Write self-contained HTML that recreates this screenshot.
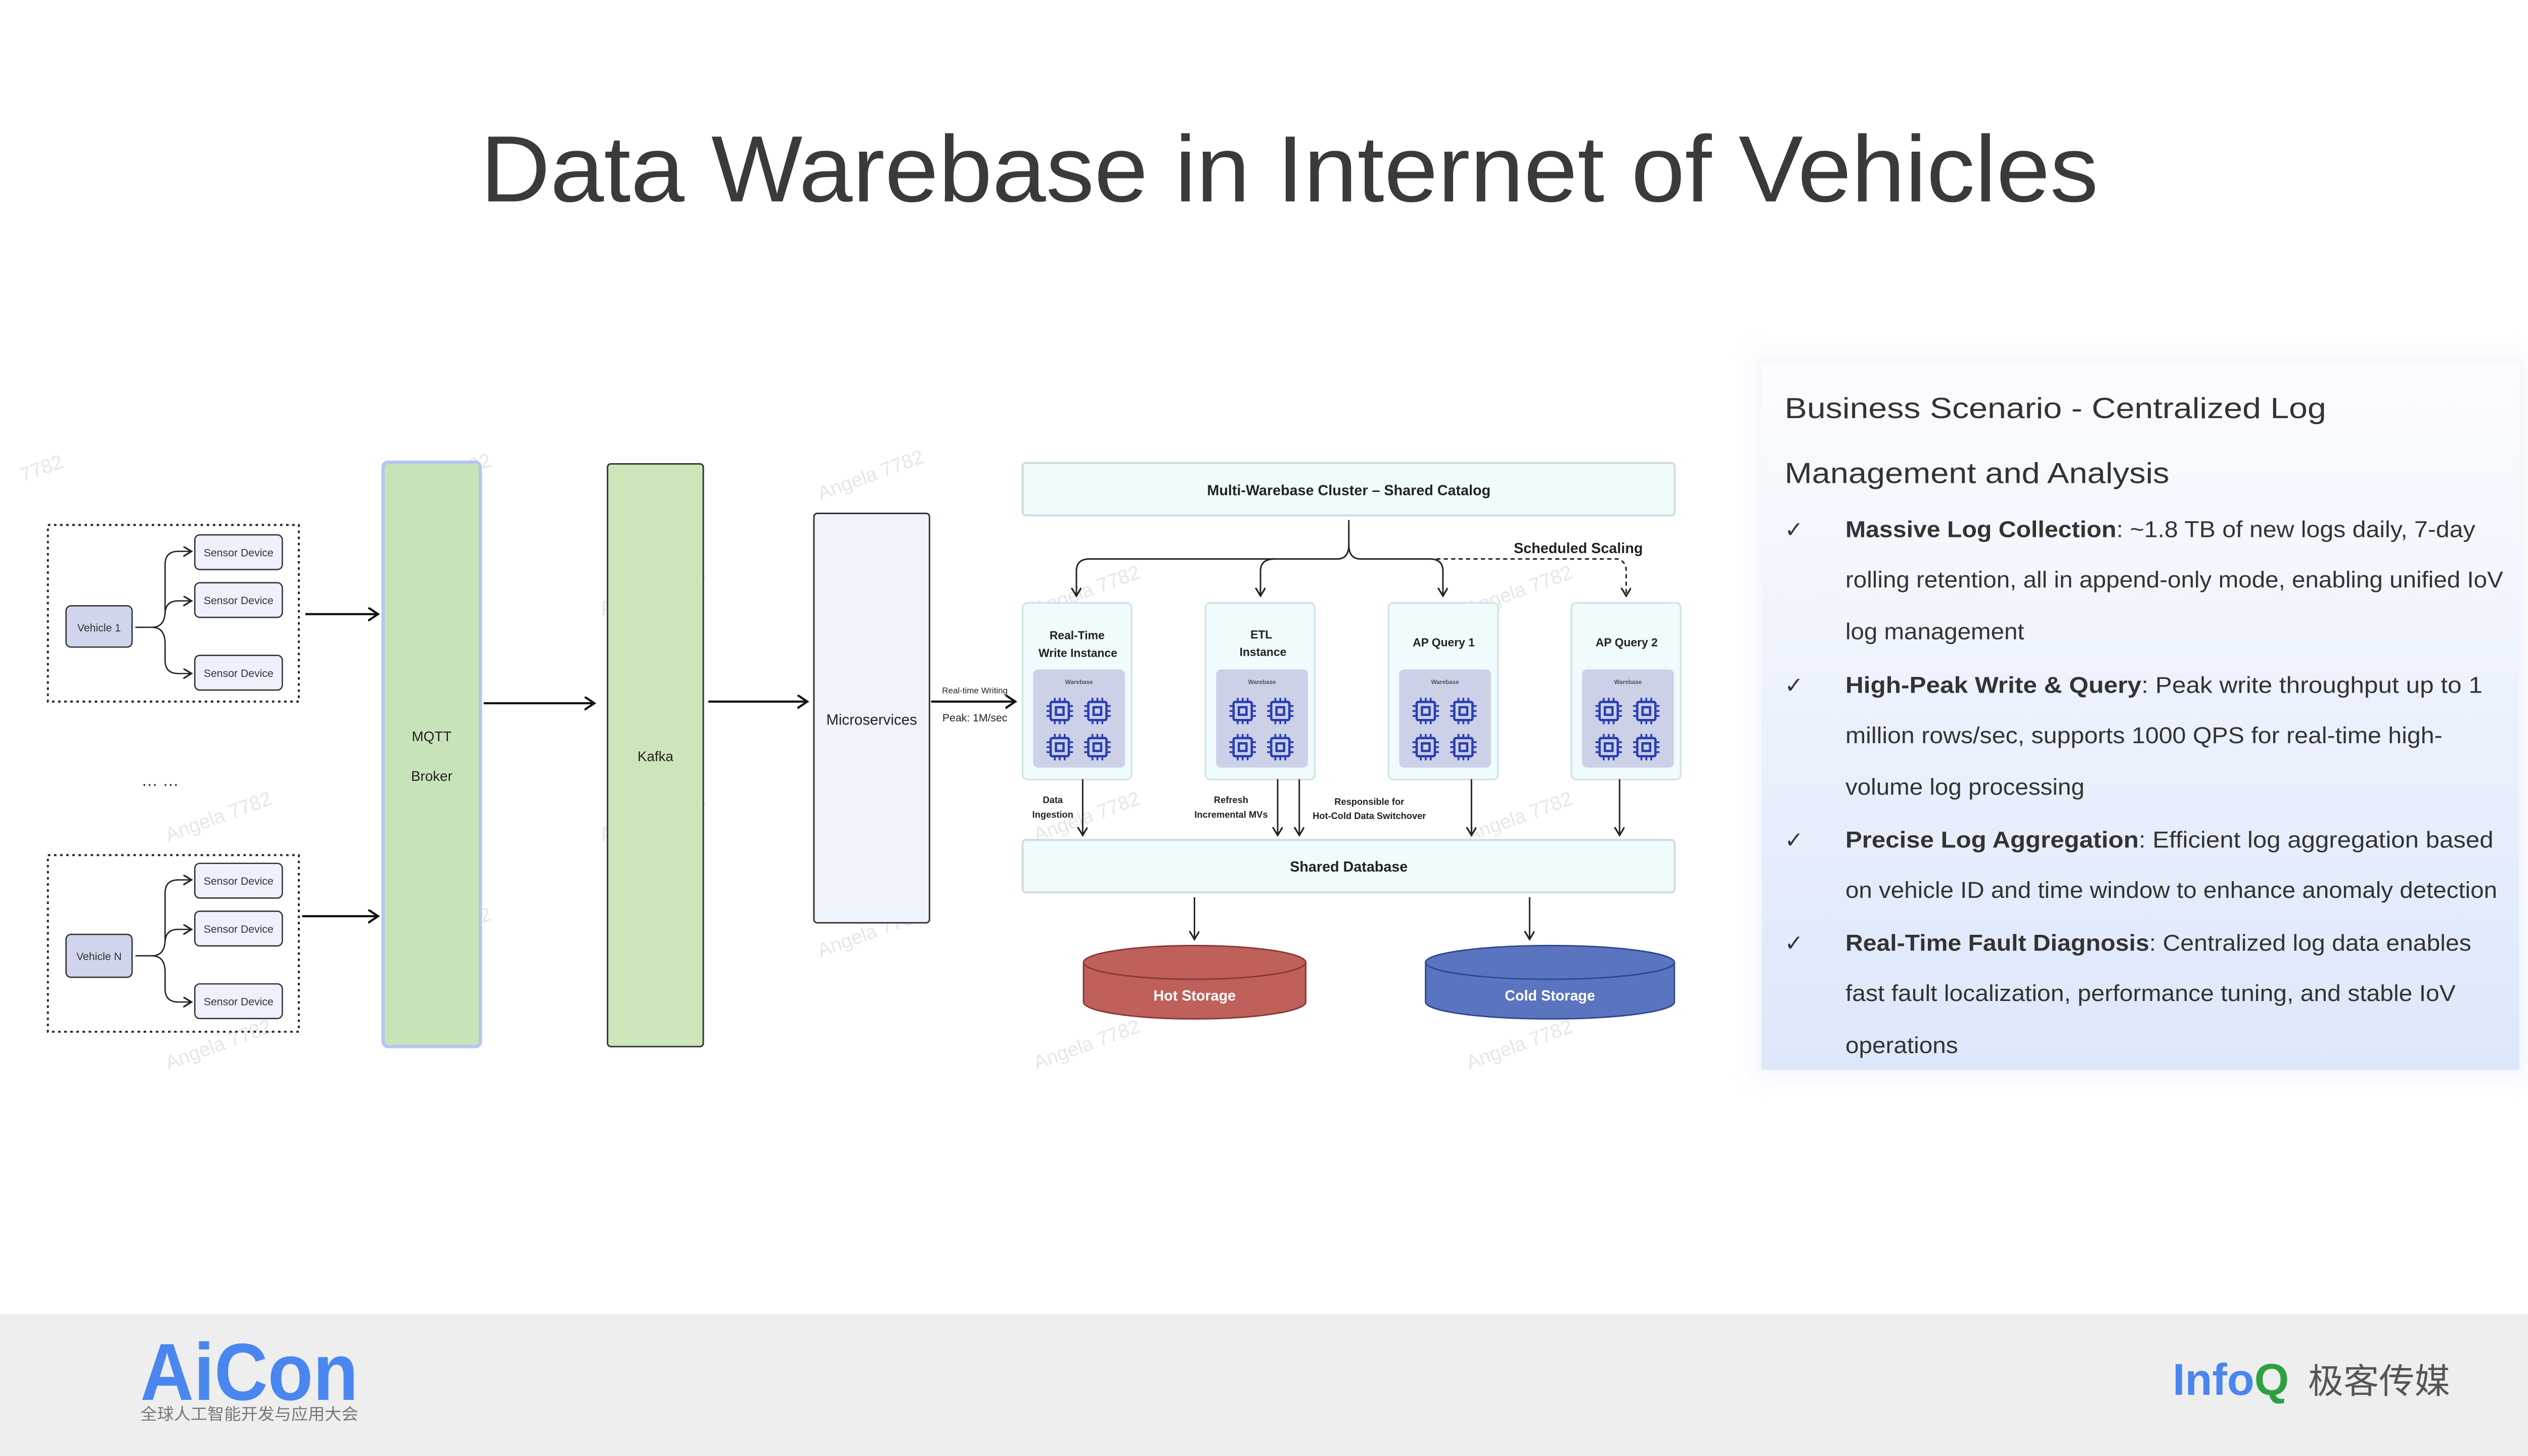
<!DOCTYPE html>
<html><head><meta charset="utf-8"><style>
html,body{margin:0;padding:0;background:#fff;}
svg{display:block;}
</style></head><body>
<svg xmlns="http://www.w3.org/2000/svg" width="5120" height="2880" viewBox="0 0 1568 882">
<defs>
<marker id="ah" markerWidth="8" markerHeight="8" refX="5" refY="3" orient="auto" markerUnits="userSpaceOnUse">
<path d="M0,0 L5,3 L0,6" fill="none" stroke="#222" stroke-width="1"/>
</marker>
<marker id="ahb" markerWidth="10" markerHeight="10" refX="6" refY="4" orient="auto" markerUnits="userSpaceOnUse">
<path d="M0,0 L6,4 L0,8" fill="none" stroke="#111" stroke-width="1.3"/>
</marker>
<g id="chip" fill="none" stroke="#2a3eb1" stroke-width="1.4">
<rect x="-5.5" y="-5.5" width="11" height="11" rx="1"/>
<rect x="-2.3" y="-2.3" width="4.6" height="4.6"/>
<path d="M-3,-5.5V-8M0,-5.5V-8M3,-5.5V-8M-3,5.5V8M0,5.5V8M3,5.5V8M-5.5,-3H-8M-5.5,0H-8M-5.5,3H-8M5.5,-3H8M5.5,0H8M5.5,3H8" stroke-width="1.1"/>
</g>
<g id="wb">
<rect x="0" y="0" width="55.6" height="59.5" rx="3" fill="#ccd1e8"/>
<text x="27.8" y="8.8" font-size="3.6" text-anchor="middle" fill="#555" font-family="Liberation Sans, sans-serif">Warebase</text>
<use href="#chip" x="16.1" y="25.2"/><use href="#chip" x="38.9" y="25.2"/>
<use href="#chip" x="16.1" y="47.1"/><use href="#chip" x="38.9" y="47.1"/>
</g>
<linearGradient id="pg" x1="0" y1="0" x2="0" y2="1">
<stop offset="0" stop-color="#fbfcff"/><stop offset="1" stop-color="#dce7fa"/>
</linearGradient>
<filter id="sh" x="-10%" y="-10%" width="120%" height="120%"><feGaussianBlur stdDeviation="6"/></filter>
</defs>

<!-- title -->
<text x="291" y="122" font-size="57" fill="#3a3a3a" textLength="980" lengthAdjust="spacingAndGlyphs" font-family="Liberation Sans, sans-serif">Data Warebase in Internet of Vehicles</text>

<!-- watermarks -->
<g font-family="Liberation Sans, sans-serif" font-size="12" fill="#e6e6e6">
<text transform="translate(14,292) rotate(-20)">7782</text>
<text transform="translate(235,305) rotate(-20)">Angela 7782</text>
<text transform="translate(497,303) rotate(-20)">Angela 7782</text>
<text transform="translate(365,373) rotate(-20)">Angela 7782</text>
<text transform="translate(102,510) rotate(-20)">Angela 7782</text>
<text transform="translate(365,510) rotate(-20)">Angela 7782</text>
<text transform="translate(235,580) rotate(-20)">Angela 7782</text>
<text transform="translate(497,580) rotate(-20)">Angela 7782</text>
<text transform="translate(102,648) rotate(-20)">Angela 7782</text>
<text transform="translate(628,648) rotate(-20)">Angela 7782</text>
<text transform="translate(890,648) rotate(-20)">Angela 7782</text>
<text transform="translate(890,510) rotate(-20)">Angela 7782</text>
<text transform="translate(890,373) rotate(-20)">Angela 7782</text>
<text transform="translate(628,373) rotate(-20)">Angela 7782</text>
<text transform="translate(628,510) rotate(-20)">Angela 7782</text>
</g>

<!-- vehicle groups -->
<g font-family="Liberation Sans, sans-serif" font-size="6.5" fill="#333" text-anchor="middle">
<rect x="29" y="318" width="152" height="107" fill="none" stroke="#222" stroke-width="1.2" stroke-dasharray="1.5,2.2"/>
<rect x="40" y="367" width="40" height="25" rx="3" fill="#d0d4ec" stroke="#333" stroke-width="0.8"/>
<text x="60" y="382.5">Vehicle 1</text>
<rect x="118" y="324" width="53" height="21" rx="3" fill="#eef1fc" stroke="#333" stroke-width="0.8"/>
<text x="144.5" y="337">Sensor Device</text>
<rect x="118" y="353" width="53" height="21" rx="3" fill="#eef1fc" stroke="#333" stroke-width="0.8"/>
<text x="144.5" y="366">Sensor Device</text>
<rect x="118" y="397" width="53" height="21" rx="3" fill="#eef1fc" stroke="#333" stroke-width="0.8"/>
<text x="144.5" y="410">Sensor Device</text>
<g fill="none" stroke="#222" stroke-width="0.8">
<path d="M82,380 H92 Q100,380 100,370 V342 Q100,334 108,334 H116" marker-end="url(#ah)"/>
<path d="M100,372 Q100,364 108,364 H116" marker-end="url(#ah)"/>
<path d="M92,380 Q100,380 100,390 V400 Q100,408 108,408 H116" marker-end="url(#ah)"/>
</g>

<rect x="29" y="518" width="152" height="107" fill="none" stroke="#222" stroke-width="1.2" stroke-dasharray="1.5,2.2"/>
<rect x="40" y="566" width="40" height="26" rx="3" fill="#d0d4ec" stroke="#333" stroke-width="0.8"/>
<text x="60" y="581.5">Vehicle N</text>
<rect x="118" y="523" width="53" height="21" rx="3" fill="#eef1fc" stroke="#333" stroke-width="0.8"/>
<text x="144.5" y="536">Sensor Device</text>
<rect x="118" y="552" width="53" height="21" rx="3" fill="#eef1fc" stroke="#333" stroke-width="0.8"/>
<text x="144.5" y="565">Sensor Device</text>
<rect x="118" y="596" width="53" height="21" rx="3" fill="#eef1fc" stroke="#333" stroke-width="0.8"/>
<text x="144.5" y="609">Sensor Device</text>
<g fill="none" stroke="#222" stroke-width="0.8">
<path d="M82,579 H92 Q100,579 100,569 V541 Q100,533 108,533 H116" marker-end="url(#ah)"/>
<path d="M100,571 Q100,563 108,563 H116" marker-end="url(#ah)"/>
<path d="M92,579 Q100,579 100,589 V599 Q100,607 108,607 H116" marker-end="url(#ah)"/>
</g>
<text x="97" y="476" font-size="10" fill="#222">… …</text>
</g>

<!-- main flow -->
<g fill="none" stroke="#111" stroke-width="1.3">
<path d="M185,372 H229" marker-end="url(#ahb)"/>
<path d="M183,555 H229" marker-end="url(#ahb)"/>
<path d="M293,426 H360" marker-end="url(#ahb)"/>
<path d="M429,425 H489" marker-end="url(#ahb)"/>
<path d="M564,425 H615" marker-end="url(#ahb)"/>
</g>
<g font-family="Liberation Sans, sans-serif" fill="#222" text-anchor="middle">
<rect x="232" y="280" width="59" height="354" rx="3" fill="#c9e3b8" stroke="#b5c6f2" stroke-width="2"/>
<text x="261.5" y="449" font-size="8.5">MQTT</text>
<text x="261.5" y="473" font-size="8.5">Broker</text>
<rect x="368" y="281" width="58" height="353" rx="2" fill="#cce5b9" stroke="#333" stroke-width="0.9"/>
<text x="397" y="461" font-size="8.5">Kafka</text>
<rect x="493" y="311" width="70" height="248" rx="2" fill="#eff3fc" stroke="#333" stroke-width="0.9"/>
<text x="528" y="439" font-size="9">Microservices</text>
<text x="590.5" y="420" font-size="5.2">Real-time Writing</text>
<text x="590.5" y="437" font-size="6.5">Peak: 1M/sec</text>
</g>

<!-- cluster -->
<g font-family="Liberation Sans, sans-serif" fill="#222" text-anchor="middle" font-weight="bold">
<rect x="619.4" y="280.5" width="395" height="31.7" rx="2" fill="#f0fbfd" stroke="#cfdde0" stroke-width="1.2"/>
<text x="817" y="300" font-size="8.8">Multi-Warebase Cluster – Shared Catalog</text>
<g fill="none" stroke="#222" stroke-width="0.9">
<path d="M817,315 V330 Q817,338.6 810,338.6 H660 Q652,338.6 652,346 V361" marker-end="url(#ah)"/>
<path d="M817,330 Q817,338.6 824,338.6 H866 Q874,338.6 874,346 V361" marker-end="url(#ah)"/>
<path d="M772,338.6 Q763.5,338.6 763.5,346 V361" />
<path d="M763.5,355 V361" marker-end="url(#ah)"/>
<path d="M870,338.6 H980 Q985,340 985,346 V361" stroke-dasharray="2.5,2" marker-end="url(#ah)"/>
</g>
<text x="956" y="335" font-size="8.8">Scheduled Scaling</text>

<rect x="619.4" y="365.2" width="66" height="107" rx="3" fill="#f0fbfd" stroke="#cfe3e8"/>
<rect x="730.1" y="365.2" width="66.3" height="107" rx="3" fill="#f0fbfd" stroke="#cfe3e8"/>
<rect x="841" y="365.2" width="66.4" height="107" rx="3" fill="#f0fbfd" stroke="#cfe3e8"/>
<rect x="951.8" y="365.2" width="66.2" height="107" rx="3" fill="#f0fbfd" stroke="#cfe3e8"/>
<g font-size="7">
<text x="652.4" y="387.3">Real-Time</text><text x="652.9" y="398">Write Instance</text>
<text x="764" y="386.8">ETL</text><text x="765" y="397.3">Instance</text>
<text x="874.5" y="391.5">AP Query 1</text>
<text x="985.3" y="391.5">AP Query 2</text>
</g>
<use href="#wb" x="625.8" y="405.5"/>
<use href="#wb" x="736.6" y="405.5"/>
<use href="#wb" x="847.5" y="405.5"/>
<use href="#wb" x="958.3" y="405.5"/>

<g fill="none" stroke="#222" stroke-width="0.9">
<path d="M655.8,472 V506" marker-end="url(#ah)"/>
<path d="M773.9,472 V506" marker-end="url(#ah)"/>
<path d="M787,472 V506" marker-end="url(#ah)"/>
<path d="M891.3,472 V506" marker-end="url(#ah)"/>
<path d="M981,472 V506" marker-end="url(#ah)"/>
<path d="M723.5,543.5 V569" marker-end="url(#ah)"/>
<path d="M926.5,543.5 V569" marker-end="url(#ah)"/>
</g>
<g font-size="5.6">
<text x="637.7" y="486.5">Data</text><text x="637.7" y="495.3">Ingestion</text>
<text x="745.7" y="486.5">Refresh</text><text x="745.7" y="495.3">Incremental MVs</text>
<text x="829.4" y="487.5">Responsible for</text><text x="829.4" y="496.2">Hot-Cold Data Switchover</text>
</g>
<rect x="619.4" y="508.8" width="395" height="31.8" rx="2" fill="#f0fbfd" stroke="#cfdde0" stroke-width="1.2"/>
<text x="817" y="528" font-size="8.8">Shared Database</text>

<path d="M656.3,583 A67.3,10.2 0 0 1 790.9,583 V607 A67.3,10.2 0 0 1 656.3,607 Z" fill="#c0605a" stroke="#8b3a36" stroke-width="0.9"/>
<path d="M656.3,583 A67.3,10.2 0 0 0 790.9,583" fill="none" stroke="#8b3a36" stroke-width="0.9"/>
<text x="723.6" y="606" font-size="8.8" fill="#fff">Hot Storage</text>
<path d="M863.5,583 A75.3,10.2 0 0 1 1014.2,583 V607 A75.3,10.2 0 0 1 863.5,607 Z" fill="#5a74bf" stroke="#2f4a94" stroke-width="0.9"/>
<path d="M863.5,583 A75.3,10.2 0 0 0 1014.2,583" fill="none" stroke="#2f4a94" stroke-width="0.9"/>
<text x="938.8" y="606" font-size="8.8" fill="#fff">Cold Storage</text>
</g>

<!-- right panel -->
<rect x="1062" y="214" width="470" height="440" fill="#e8ecf6" opacity="0.5" filter="url(#sh)"/>
<rect x="1067" y="220" width="459" height="428" fill="url(#pg)"/>
<g font-family="Liberation Sans, sans-serif" fill="#333">
<text x="1081" y="253.2" font-size="17.5" textLength="328" lengthAdjust="spacingAndGlyphs">Business Scenario  -  Centralized Log</text>
<text x="1081" y="292.6" font-size="17.5" textLength="233" lengthAdjust="spacingAndGlyphs">Management and Analysis</text>
<g font-size="13.5" font-family="DejaVu Sans, sans-serif">
<text x="1081" y="325.4">✓</text><text x="1081" y="419.7">✓</text><text x="1081" y="513.4">✓</text><text x="1081" y="575.9">✓</text>
</g>
<g font-size="14">
<text x="1117.8" y="325.4" textLength="381.5" lengthAdjust="spacingAndGlyphs"><tspan font-weight="bold">Massive Log Collection</tspan>:  ~1.8 TB of new logs daily, 7-day</text>
<text x="1117.8" y="355.9" textLength="398.4" lengthAdjust="spacingAndGlyphs">rolling retention, all in append-only mode, enabling unified IoV</text>
<text x="1117.8" y="387.2" textLength="108.3" lengthAdjust="spacingAndGlyphs">log management</text>
<text x="1117.8" y="419.7" textLength="385.9" lengthAdjust="spacingAndGlyphs"><tspan font-weight="bold">High-Peak Write &amp; Query</tspan>:  Peak write throughput up to 1</text>
<text x="1117.8" y="450.2" textLength="361.6" lengthAdjust="spacingAndGlyphs">million rows/sec, supports 1000 QPS for real-time high-</text>
<text x="1117.8" y="481.5" textLength="144.8" lengthAdjust="spacingAndGlyphs">volume log processing</text>
<text x="1117.8" y="513.4" textLength="392.5" lengthAdjust="spacingAndGlyphs"><tspan font-weight="bold">Precise Log Aggregation</tspan>:  Efficient log aggregation based</text>
<text x="1117.8" y="543.9" textLength="394.8" lengthAdjust="spacingAndGlyphs">on vehicle ID and time window to enhance anomaly detection</text>
<text x="1117.8" y="575.9" textLength="379.1" lengthAdjust="spacingAndGlyphs"><tspan font-weight="bold">Real-Time Fault Diagnosis</tspan>:  Centralized log data enables</text>
<text x="1117.8" y="606.4" textLength="369.6" lengthAdjust="spacingAndGlyphs">fast fault localization, performance tuning, and stable IoV</text>
<text x="1117.8" y="638" textLength="68.2" lengthAdjust="spacingAndGlyphs">operations</text>
</g>
</g>

<!-- footer -->
<rect x="0" y="796" width="1568" height="86" fill="#eeeeee"/>
<text x="85" y="848" font-size="49" font-weight="bold" fill="#4a86f0" textLength="132" lengthAdjust="spacingAndGlyphs" font-family="Liberation Sans, sans-serif">AiCon</text>
<text x="85" y="860" font-size="9.8" fill="#777" textLength="132" lengthAdjust="spacingAndGlyphs" font-family="Liberation Sans, 'Noto Sans CJK SC', sans-serif">全球人工智能开发与应用大会</text>
<text x="1316" y="845" font-size="27" font-weight="bold" fill="#4a86f0" font-family="Liberation Sans, sans-serif">Info<tspan fill="#2ea043">Q</tspan></text>
<text x="1398" y="844" font-size="21" fill="#555" textLength="86" lengthAdjust="spacingAndGlyphs" font-family="'Noto Sans CJK SC', sans-serif">极客传媒</text>
</svg>
</body></html>
